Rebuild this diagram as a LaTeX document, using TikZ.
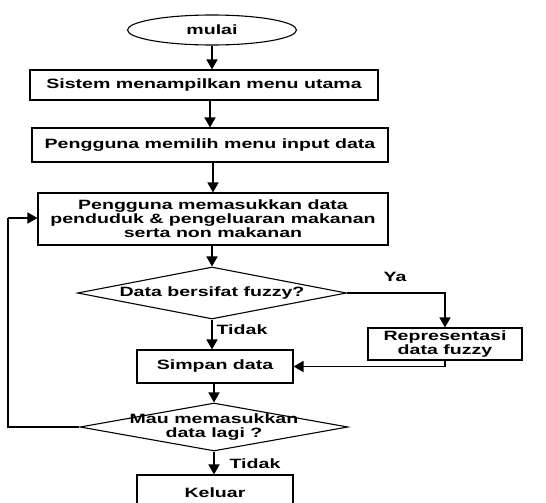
\documentclass[tikz,border=0pt]{standalone}
\usepackage{fontspec}
\newfontfamily\diagfont{Liberation Sans}[FakeStretch=1.45]
\usetikzlibrary{shapes.geometric,arrows.meta}
\begin{document}
\begin{tikzpicture}[x=1pt,y=-1pt,
  font=\diagfont\bfseries\fontsize{13.5}{14}\selectfont,
  box/.style={draw, line width=1.1pt, inner sep=0pt, align=center},
  dia/.style={draw, diamond, line width=1.1pt, inner sep=0pt},
  arr/.style={line width=1.6pt, -{Triangle[length=10pt,width=11pt]}},
  conn/.style={line width=1.6pt},
  lbl/.style={inner sep=0pt, align=center}]
\useasboundingbox (0,0) rectangle (546,503);
\node[box, ellipse, minimum width=169pt, minimum height=30pt] (start) at (212,30) {mulai};
\node[box, minimum width=348pt, minimum height=30pt] (b1) at (204,85) {Sistem menampilkan menu utama};
\node[box, minimum width=356pt, minimum height=34pt] (b2) at (210,145) {Pengguna memilih menu input data};
\node[box, minimum width=350pt, minimum height=52pt] (b3) at (213,219) {Pengguna memasukkan data\\penduduk \& pengeluaran makanan\\serta non makanan};
\node[dia, minimum width=269pt, minimum height=52pt] (d1) at (212,293) {};
\node[lbl] (d1t) at (212,293) {Data bersifat fuzzy?};
\node[box, minimum width=154pt, minimum height=32pt] (b4) at (445,344) {Representasi\\data fuzzy};
\node[box, minimum width=156pt, minimum height=33pt] (b5) at (215,366.5) {Simpan data};
\node[dia, minimum width=268pt, minimum height=48pt] (d2) at (214,427) {};
\node[lbl] (d2t) at (214,427) {Mau memasukkan\\data lagi ?};
\node[box, minimum width=156pt, minimum height=36pt] (b6) at (215,493) {Keluar};
\node[lbl] (ya) at (395,277) {Ya};
\node[lbl] (t1) at (242,330) {Tidak};
\node[lbl] (t2) at (255,464) {Tidak};
\coordinate (lb) at (8,427);
\coordinate (lt) at (8,218);
\draw[arr] (start.south) -- (start.south |- b1.north);
\draw[arr] (b1.south -| b2) -- (b2.north);
\draw[arr] (b2.south -| b3) -- (b3.north);
\draw[arr] (b3.south -| d1) -- (d1.north);
\draw[arr] (d1.south) -- (d1.south |- b5.north);
\draw[arr] (d1.east) -| (b4.north);
\draw[arr] (b4.south) |- (b5.east);
\draw[arr] (b5.south -| d2) -- (d2.north);
\draw[arr] (d2.south) -- (d2.south |- b6.north);
\draw[conn] (d2.west) -- (lb) -- (lt);
\draw[arr] (lt) -- (lt -| b3.west);
\end{tikzpicture}
\end{document}
